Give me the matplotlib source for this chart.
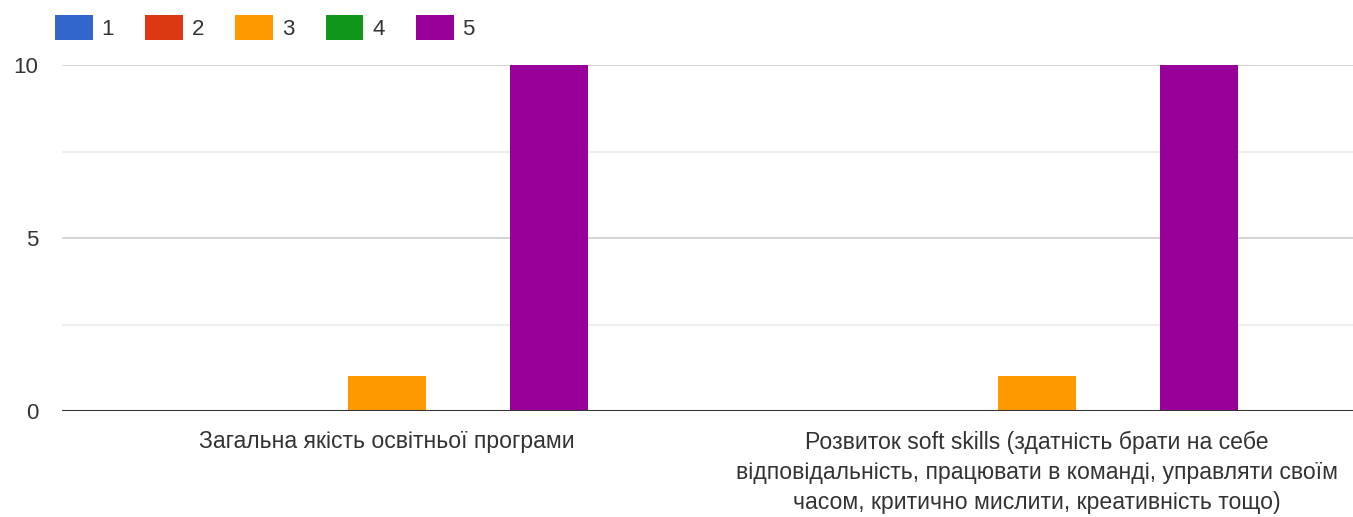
import numpy as np
import matplotlib.pyplot as plt
from matplotlib.patches import Patch

plt.rcParams['font.family'] = ['Liberation Sans', 'DejaVu Sans']

# data
categories = ['Загальна якість освітньої програми',
              'Розвиток soft skills (здатність брати на себе\n'
              'відповідальність, працювати в команді, управляти своїм\n'
              'часом, критично мислити, креативність тощо)']
series = ['1', '2', '3', '4', '5']
counts = [[0, 0, 1, 0, 10],
          [0, 0, 1, 0, 10]]
colors = ['#3366cc', '#dc3912', '#ff9900', '#109618', '#990099']

fig = plt.figure(figsize=(13.53, 5.17), dpi=100)
ax = fig.add_axes([62/1353, 1-411/517, 1-62/1353, (411-65)/517])

centers = np.array([0.0, 8.0])
w = 0.96
for j, s in enumerate(series):
    vals = [counts[i][j] for i in range(len(categories))]
    ax.bar(centers + (j-2), vals, width=w, color=colors[j], zorder=3)

ax.set_xlim(-4.0, 11.89)
ax.set_ylim(0, 10)
ax.set_yticks([0, 5, 10])
ax.set_yticks([2.5, 7.5], minor=True)
ax.grid(axis='y', which='major', color='#cccccc', lw=1.2, zorder=0)
ax.grid(axis='y', which='minor', color='#ebebeb', lw=1.2, zorder=0)
ax.axhline(0, color='#333333', lw=1.5, zorder=4)
ax.set_xticks(centers)
ax.set_xticklabels(categories, linespacing=1.4)
ax.tick_params(axis='both', which='both', length=0, labelcolor='#333333')
ax.tick_params(axis='y', pad=17, labelsize=16)
ax.tick_params(axis='x', pad=14, labelsize=16.6)
for sp in ax.spines.values():
    sp.set_visible(False)

handles = [Patch(facecolor=c, label=s) for c, s in zip(colors, series)]
fig.legend(handles=handles, loc='upper left', bbox_to_anchor=(35/1353, 1.01),
           ncol=5, frameon=False, fontsize=16, handlelength=1.7, handleheight=1.35,
           handletextpad=0.4, columnspacing=1.4, labelcolor='#333333')

fig.savefig('out.png', dpi=100)
